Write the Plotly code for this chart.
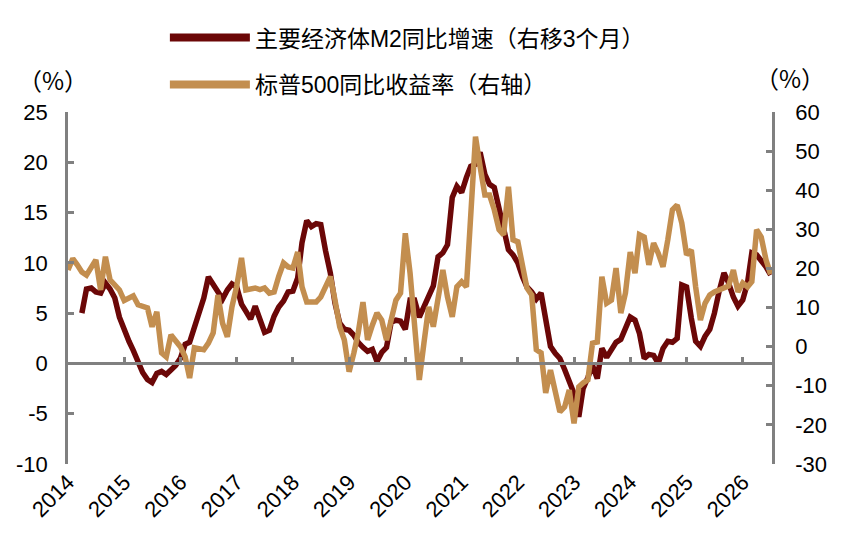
import pandas as pd
import plotly.graph_objects as go

# 月度数据：2014-01 起
dates = pd.date_range("2014-01-01", periods=151, freq="MS")

# 主要经济体M2同比增速（右移3个月），从 2014-04 开始
m2 = [
    5.0, 7.4, 7.5, 7.1, 7.0, 8.0, 7.4, 6.5, 4.6,
    3.2, 2.2, 1.3, 0.0, -0.9, -1.6, -1.9, -1.0, -0.8, -1.1, -0.6, -0.2,
    0.5, 1.9, 2.1, 3.5, 5.2, 6.5, 8.6, 7.8, 7.1, 6.4, 7.3, 7.9,
    7.6, 5.9, 5.2, 4.4, 5.7, 4.4, 3.1, 3.3, 4.7, 5.6, 6.2, 7.1,
    7.2, 8.5, 12.0, 14.2, 13.6, 13.9, 13.8, 11.2, 9.0, 6.0, 4.0, 3.4,
    3.3, 2.8, 2.1, 1.6, 1.2, 1.4, 0.2, 1.1, 1.6, 4.1, 4.3, 4.2,
    3.4, 6.3, 6.3, 4.6, 5.6, 6.5, 7.7, 10.6, 11.0, 11.8, 16.5, 17.6,
    17.0, 18.5, 19.6, 19.8, 21.0, 18.8, 17.8, 17.5, 15.5, 13.2, 11.3, 10.8,
    10.0, 8.6, 7.6, 7.1, 6.4, 7.0, 4.2, 1.7, 1.0, 0.5, -0.6, -1.8,
    -3.0, -5.3, -2.5, -1.4, -0.2, -1.5, 1.5, 0.6, 1.4, 2.1, 2.4, 3.5,
    4.6, 4.3, 3.0, 0.5, 0.9, 0.8, 0.0, 1.5, 2.2, 2.1, 2.5, 7.8,
    7.6, 4.5, 2.2, 1.7, 2.7, 3.4, 5.0, 7.2, 9.0, 8.0, 6.6, 5.7,
    6.3, 8.0, 11.0, 10.8, 10.3, 9.6, 8.8,
]

# 标普500同比收益率（右轴）
sp500 = [
    19.6, 22.5, 21.0, 19.1, 18.3, 20.0, 22.2, 14.5, 23.0, 17.1, 15.8, 14.5,
    11.8, 12.6, 13.0, 10.7, 10.2, 9.9, 5.1, 8.9, -1.6, -2.6, 3.0, 1.5,
    0.0, -2.6, -8.0, -0.3, -0.5, -0.8, 0.9, 3.5, 13.2, 6.0, 2.5, 10.2,
    15.5, 22.7, 14.5, 14.8, 15.0, 14.6, 15.0, 13.7, 14.0, 18.0, 21.4, 20.4,
    20.1, 24.2, 15.3, 11.4, 11.4, 11.4, 12.7, 15.3, 17.9, 12.0, 5.1, 1.7,
    -6.4, -1.6, 3.5, 11.4, 1.7, 5.5, 8.6, 6.8, 1.7, 6.8, 11.9, 13.7,
    29.0, 18.8, 3.5, -8.5, 0.9, 10.2, 5.1, 12.7, 19.6, 12.7, 7.6, 15.3,
    16.6, 15.3, 35.0, 53.7, 46.0, 38.8, 38.8, 35.0, 29.9, 28.6, 40.9, 27.3,
    26.8, 21.4, 15.0, 13.2, -0.8, -1.6, -11.8, -6.0, -11.8, -16.7, -15.4, -11.1,
    -19.6, -10.3, -9.3, -8.5, 0.9, 1.2, 17.9, 11.1, 11.9, 20.1, 8.6, 13.7,
    24.2, 18.8, 28.6, 28.0, 20.9, 26.5, 23.9, 20.4, 27.3, 35.0, 36.2, 31.6,
    23.5, 24.7, 15.3, 6.8, 11.1, 13.2, 14.0, 14.5, 15.3, 15.5, 19.6, 14.0,
    16.3, 15.3, 16.6, 29.9, 28.0, 22.2, 18.5,
]

# 坐标轴刻度（用普通减号）
left_ticks = [-10, -5, 0, 5, 10, 15, 20, 25]
right_ticks = [-30, -20, -10, 0, 10, 20, 30, 40, 50, 60]

names = ["主要经济体M2同比增速（右移3个月）", "标普500同比收益率（右轴）"]
colors = ["#6B0707", "#C38E4F"]
gray = "#808080"
font_main = "Liberation Sans, Arial, Noto Sans CJK SC"
x_range = ["2014-01-01", "2026-07-10"]

m2_full = [None] * (len(dates) - len(m2)) + m2

fig = go.Figure()
fig.add_trace(go.Scatter(x=dates, y=m2_full, mode="lines", showlegend=False,
                         line=dict(color=colors[0], width=5.5)))
fig.add_trace(go.Scatter(x=dates, y=sp500, mode="lines", yaxis="y2", showlegend=False,
                         line=dict(color=colors[1], width=5.5)))

# 图例用的粗线
for i, (n, c) in enumerate(zip(names, colors)):
    fig.add_trace(go.Scatter(x=[None], y=[None], mode="lines", name=n,
                             legendgroup=f"g{i}", line=dict(color=c, width=8)))

# 零轴上的年份刻度
fig.add_trace(go.Scatter(x=x_range, y=[0, 0], mode="lines", xaxis="x2",
                         line=dict(width=0), showlegend=False, hoverinfo="skip"))

axis_style = dict(showgrid=False, zeroline=False, showline=True, linecolor=gray,
                  linewidth=2.5, ticks="inside", ticklen=6, tickwidth=2.5,
                  tickcolor=gray, tickfont=dict(size=22, color="black", family=font_main))

fig.update_layout(
    width=848, height=544,
    margin=dict(l=60, r=84, t=104, b=88, autoexpand=False),
    plot_bgcolor="white", paper_bgcolor="white",
    font=dict(family=font_main, color="black"),
    xaxis=dict(range=x_range, type="date", tick0="2014-01-01", dtick="M12",
               tickformat="%Y", tickangle=-45, showgrid=False, zeroline=False,
               showline=False, ticks="", tickfont=dict(size=22, family=font_main)),
    xaxis2=dict(range=x_range, type="date", overlaying="x", anchor="free",
                position=10 / 35, tick0="2014-01-01", dtick="M12",
                showticklabels=False, showgrid=False, zeroline=False,
                showline=True, linecolor=gray, linewidth=2.5,
                ticks="inside", ticklen=6, tickwidth=2.5, tickcolor=gray),
    yaxis=dict(range=[-10, 25], tickvals=left_ticks,
               ticktext=[str(v) for v in left_ticks], ticklabelstandoff=13, **axis_style),
    yaxis2=dict(range=[-30, 60], tickvals=right_ticks,
                ticktext=[str(v) for v in right_ticks], overlaying="y", side="right",
                ticklabelstandoff=16, **axis_style),
    legend=dict(xref="container", yref="container", x=0.185, y=0.985,
                xanchor="left", yanchor="top", itemwidth=80, tracegroupgap=14,
                font=dict(size=23, family=font_main), bgcolor="rgba(0,0,0,0)"),
    annotations=[
        dict(text="（%）", xref="paper", yref="paper", x=-0.021, y=1.091,
             xanchor="center", yanchor="middle", showarrow=False,
             font=dict(size=24, family="Noto Sans CJK SC")),
        dict(text="（%）", xref="paper", yref="paper", x=1.026, y=1.099,
             xanchor="center", yanchor="middle", showarrow=False,
             font=dict(size=24, family="Noto Sans CJK SC")),
    ],
)

fig.write_html("out.html")
